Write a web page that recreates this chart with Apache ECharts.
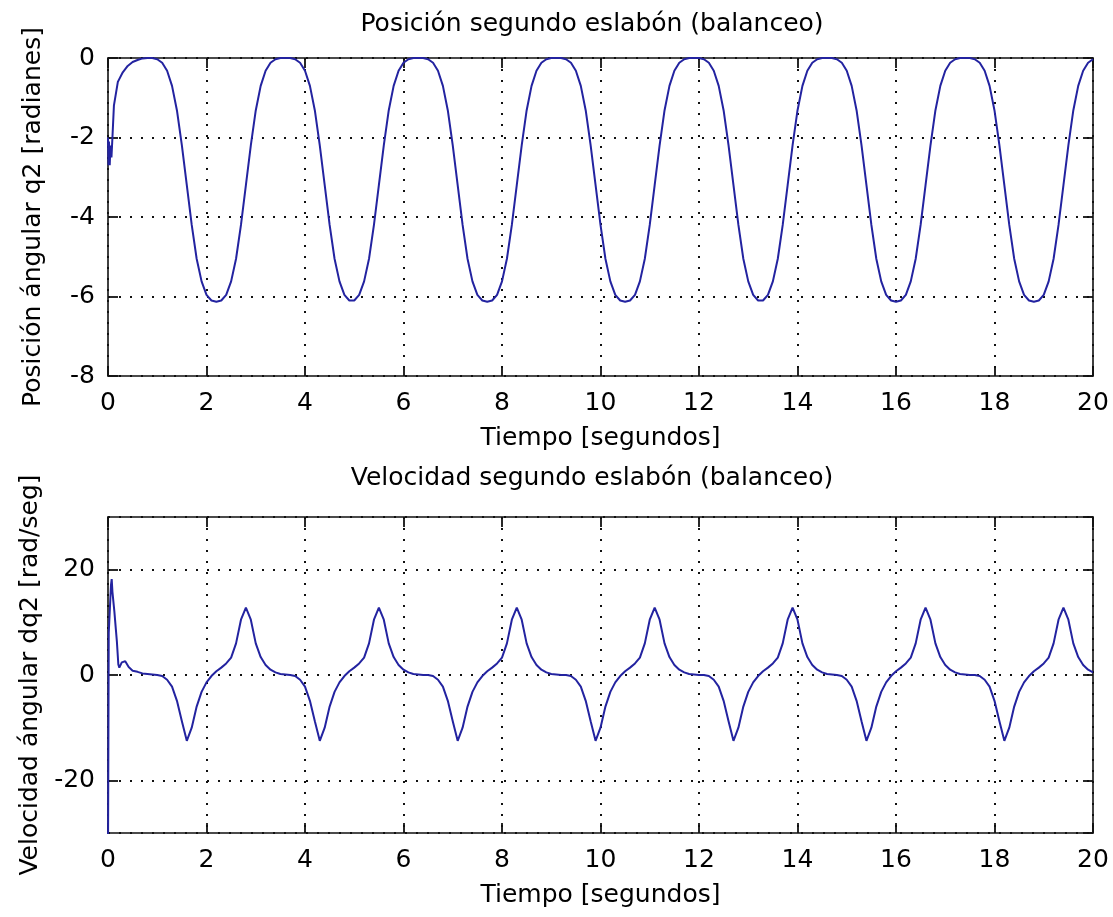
<!DOCTYPE html>
<html>
<head>
<meta charset="utf-8">
<title>Posición y velocidad segundo eslabón</title>
<script src="https://cdn.jsdelivr.net/npm/echarts@6/dist/echarts.min.js"></script>
<style>
  html, body { margin: 0; padding: 0; background: #fff; }
  #main { width: 1113px; height: 917px; }
</style>
</head>
<body>
<div id="main"></div>
<script>
// paso de muestreo de la parte regular de las curvas (s)
const PASO = 0.1;

// posición q2: transitorio inicial (tiempos a mano) y luego cada 0.1 s desde 0.8 s
const tInicioQ2 = [0, 0.01, 0.02, 0.035, 0.05, 0.07, 0.09, 0.12, 0.2, 0.3, 0.4, 0.5, 0.6, 0.7];
const q2Inicio = [-2.0, -2.7, -2.1, -2.7, -2.2, -2.5, -2.0, -1.2, -0.6, -0.36, -0.2, -0.1, -0.05, -0.01];
const t0Q2 = 0.8;
const q2 = [
  0, 0,
  -0.03, -0.12, -0.32, -0.7, -1.32, -2.2, -3.2, -4.2, -5.05, -5.62,
  -5.96, -6.1, -6.13, -6.1, -5.96, -5.62, -5.05, -4.2, -3.2, -2.2,
  -1.32, -0.7, -0.32, -0.12, -0.03, 0, 0, 0, -0.03, -0.12,
  -0.32, -0.7, -1.32, -2.2, -3.2, -4.2, -5.05, -5.62, -5.96, -6.1,
  -6.1, -5.96, -5.62, -5.05, -4.2, -3.2, -2.2, -1.32, -0.7, -0.32,
  -0.12, -0.03, 0, 0, 0, -0.03, -0.12, -0.32, -0.7, -1.32,
  -2.2, -3.2, -4.2, -5.05, -5.62, -5.96, -6.1, -6.13, -6.1, -5.96,
  -5.62, -5.05, -4.2, -3.2, -2.2, -1.32, -0.7, -0.32, -0.12, -0.03,
  0, 0, 0, -0.03, -0.12, -0.32, -0.7, -1.32, -2.2, -3.2,
  -4.2, -5.05, -5.62, -5.96, -6.1, -6.13, -6.1, -5.96, -5.62, -5.05,
  -4.2, -3.2, -2.2, -1.32, -0.7, -0.32, -0.12, -0.03, 0, 0,
  0, -0.03, -0.12, -0.32, -0.7, -1.32, -2.2, -3.2, -4.2, -5.05,
  -5.62, -5.96, -6.1, -6.1, -5.96, -5.62, -5.05, -4.2, -3.2, -2.2,
  -1.32, -0.7, -0.32, -0.12, -0.03, 0, 0, 0, -0.03, -0.12,
  -0.32, -0.7, -1.32, -2.2, -3.2, -4.2, -5.05, -5.62, -5.96, -6.1,
  -6.13, -6.1, -5.96, -5.62, -5.05, -4.2, -3.2, -2.2, -1.32, -0.7,
  -0.32, -0.12, -0.03, 0, 0, 0, -0.03, -0.12, -0.32, -0.7,
  -1.32, -2.2, -3.2, -4.2, -5.05, -5.62, -5.96, -6.1, -6.13, -6.1,
  -5.96, -5.62, -5.05, -4.2, -3.2, -2.2, -1.32, -0.7, -0.32, -0.12,
  -0.03
];

// velocidad dq2: transitorio inicial y luego cada 0.1 s desde 0.6 s
const tInicioDq2 = [0, 0.015, 0.04, 0.06, 0.075, 0.09, 0.11, 0.13, 0.16, 0.18, 0.21, 0.23, 0.28, 0.35, 0.42, 0.5];
const dq2Inicio = [-34, 8, 8.3, 17, 18.2, 15.8, 15.8, 12, 8.6, 6.4, 2.0, 1.4, 2.4, 2.6, 1.5, 0.8];
const t0Dq2 = 0.6;
const dq2 = [
  0.6, 0.3, 0.2, 0.1,
  0.0, -0.2, -0.9, -2.2, -4.9, -8.8, -12.5, -10.0, -6.0, -3.2,
  -1.4, -0.2, 0.7, 1.4, 2.2, 3.3, 6.0, 10.5, 12.8, 10.5,
  6.0, 3.4, 1.9, 1.0, 0.5, 0.2, 0.1, 0.0, -0.2, -0.9,
  -2.2, -4.9, -8.8, -12.5, -10.0, -6.0, -3.2, -1.4, -0.2, 0.7,
  1.4, 2.2, 3.3, 6.0, 10.5, 12.8, 10.5, 6.0, 3.4, 1.9,
  1.0, 0.5, 0.2, 0.1, 0.0, 0.0, -0.2, -0.9, -2.2, -4.9,
  -8.8, -12.5, -10.0, -6.0, -3.2, -1.4, -0.2, 0.7, 1.4, 2.2,
  3.3, 6.0, 10.5, 12.8, 10.5, 6.0, 3.4, 1.9, 1.0, 0.5,
  0.2, 0.1, 0.0, 0.0, -0.2, -0.9, -2.2, -4.9, -8.8, -12.5,
  -10.0, -6.0, -3.2, -1.4, -0.2, 0.7, 1.4, 2.2, 3.3, 6.0,
  10.5, 12.8, 10.5, 6.0, 3.4, 1.9, 1.0, 0.5, 0.2, 0.1,
  0.0, 0.0, -0.2, -0.9, -2.2, -4.9, -8.8, -12.5, -10.0, -6.0,
  -3.2, -1.4, -0.2, 0.7, 1.4, 2.2, 3.3, 6.0, 10.5, 12.8,
  10.5, 6.0, 3.4, 1.9, 1.0, 0.5, 0.2, 0.1, 0.0, -0.2,
  -0.9, -2.2, -4.9, -8.8, -12.5, -10.0, -6.0, -3.2, -1.4, -0.2,
  0.7, 1.4, 2.2, 3.3, 6.0, 10.5, 12.8, 10.5, 6.0, 3.4,
  1.9, 1.0, 0.5, 0.2, 0.1, 0.0, 0.0, -0.2, -0.9, -2.2,
  -4.9, -8.8, -12.5, -10.0, -6.0, -3.2, -1.4, -0.2, 0.7, 1.4,
  2.2, 3.3, 6.0, 10.5, 12.8, 10.5, 6.0, 3.4, 1.9, 1.0,
  0.5
];

// junta el transitorio con la parte muestreada regularmente -> pares [t, valor]
function armarSerie(tIni, vIni, t0, vals) {
    let pares = tIni.map((t, i) => [t, vIni[i]]);
    vals.forEach((v, i) => {
        pares.push([+(t0 + i * PASO).toFixed(2), v]);
    });
    return pares;
}

const FUENTE = 'DejaVu Sans';
const texto = { fontFamily: FUENTE, fontSize: 25, color: '#000', fontWeight: 'normal' };
const lineaEje = { show: true, onZero: false, lineStyle: { color: '#111', width: 1.6 } };
const marcas = { show: true, inside: true, length: 10, lineStyle: { color: '#111', width: 1.8 } };
const rejilla = { show: true, lineStyle: { color: '#111', width: 2, type: [2, 9] } };

// eje principal (con etiquetas y rejilla) y su gemelo en el lado opuesto (solo marcas)
function ejeX(grid, principal, nombre) {
    return {
        type: 'value', gridIndex: grid, min: 0, max: 20, interval: 2,
        position: principal ? 'bottom' : 'top',
        name: principal ? nombre : '', nameLocation: 'middle', nameGap: 50,
        nameTextStyle: texto,
        axisLine: lineaEje, axisTick: marcas,
        axisLabel: { show: principal, margin: 15, ...texto },
        splitLine: principal ? rejilla : { show: false }
    };
}

function ejeY(grid, principal, min, max, intervalo, nombre) {
    let eje = {
        type: 'value', gridIndex: grid, min: min, max: max,
        position: principal ? 'left' : 'right',
        name: principal ? nombre : '', nameLocation: 'middle', nameGap: 62,
        nameTextStyle: texto,
        axisLine: lineaEje, axisTick: marcas,
        axisLabel: { show: principal, margin: 13, showMinLabel: intervalo !== null, showMaxLabel: intervalo !== null, ...texto },
        splitLine: principal ? rejilla : { show: false }
    };
    if (intervalo !== null) eje.interval = intervalo;
    else eje.splitNumber = 3;
    return eje;
}

var myChart = echarts.init(document.getElementById('main'), null, { renderer: 'canvas' });

var option = {
    backgroundColor: '#fff',
    animation: false,
    title: [
        { text: 'Posición segundo eslabón (balanceo)', left: 592, top: 12, padding: 0, textAlign: 'center', textStyle: texto },
        { text: 'Velocidad segundo eslabón (balanceo)', left: 592, top: 466, padding: 0, textAlign: 'center', textStyle: texto }
    ],
    grid: [
        { left: 108, top: 58, width: 985, height: 318 },
        { left: 108, top: 517, width: 985, height: 316 }
    ],
    xAxis: [
        ejeX(0, true, 'Tiempo [segundos]'),
        ejeX(0, false),
        ejeX(1, true, 'Tiempo [segundos]'),
        ejeX(1, false)
    ],
    yAxis: [
        ejeY(0, true, -8, 0, 2, 'Posición ángular q2 [radianes]'),
        ejeY(0, false, -8, 0, 2),
        ejeY(1, true, -30, 30, null, 'Velocidad ángular dq2 [rad/seg]'),
        ejeY(1, false, -30, 30, null)
    ],
    series: [
        {
            name: 'q2', type: 'line', xAxisIndex: 0, yAxisIndex: 0,
            data: armarSerie(tInicioQ2, q2Inicio, t0Q2, q2),
            symbol: 'none', clip: true,
            lineStyle: { color: '#2323a0', width: 2 }
        },
        {
            name: 'dq2', type: 'line', xAxisIndex: 2, yAxisIndex: 2,
            data: armarSerie(tInicioDq2, dq2Inicio, t0Dq2, dq2),
            symbol: 'none', clip: true,
            lineStyle: { color: '#2323a0', width: 2 }
        }
    ]
};

myChart.setOption(option);
</script>
</body>
</html>
